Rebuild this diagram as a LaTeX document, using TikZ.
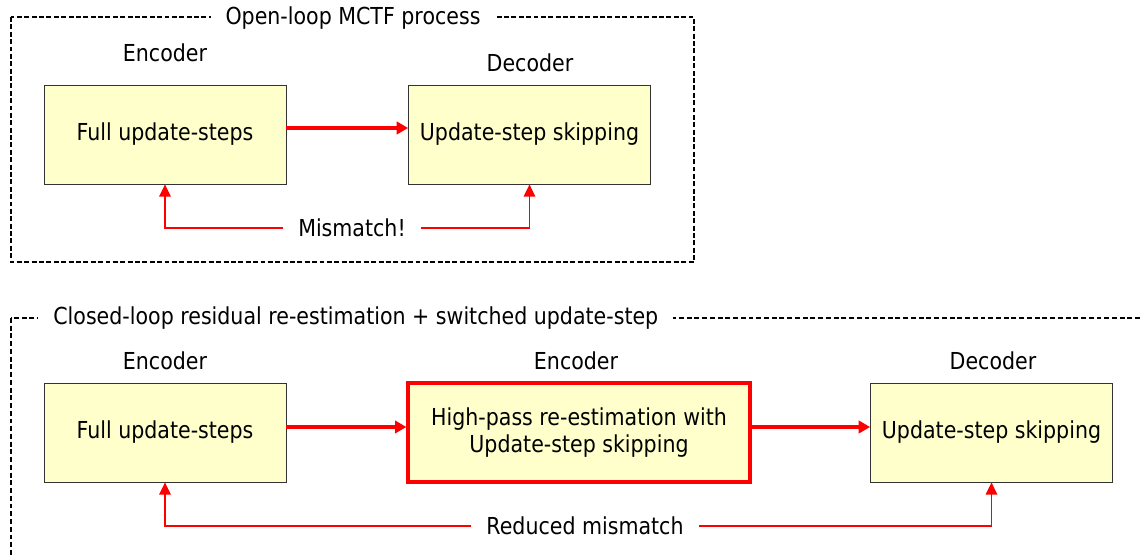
\documentclass[tikz,border=0pt]{standalone}
\usepackage{fontspec}
\setmainfont{DejaVu Sans}[FakeStretch=0.88]
\usetikzlibrary{arrows.meta}

\definecolor{boxfill}{HTML}{FFFFCC}
\tikzstyle{mc-block}=[draw=black!80,fill=boxfill,minimum width=4.84cm,minimum height=1.98cm,font=\fontsize{13.3}{15.5}\selectfont]
\tikzstyle{mc-block-r}=[mc-block,draw=red,line width=1.8pt,minimum width=6.84cm,align=center]
\tikzstyle{mc-label}=[font=\fontsize{13.3}{15.5}\selectfont]
\tikzstyle{mc-frame}=[dash pattern=on 2.8pt off 1.4pt,line width=1.1pt]
\tikzstyle{mc-frame-thin}=[dash pattern=on 2.8pt off 1.6pt,line width=0.7pt]
\tikzstyle{mc-title}=[fill=white,inner xsep=0.3cm,font=\fontsize{13.3}{15.5}\selectfont]
\tikzstyle{mc-flow}=[red,line width=1.9pt,-{Triangle[length=6.5pt,width=7pt]}]
\tikzstyle{mc-back}=[red,line width=1.1pt,-{Triangle[length=7pt,width=6.5pt]}]

\begin{document}
\begin{tikzpicture}
    \useasboundingbox (0,0) rectangle (22.86,-11.12);
    \clip (0,0) rectangle (22.86,-11.12);
    % open loop
    \draw[mc-frame] (0.22,-0.34) rectangle (13.88,-5.24);
    \node[mc-title] (open) at (7.06,-0.36) {Open-loop MCTF process};
    \node[mc-block] (enc1) at (3.30,-2.69) {Full update-steps};
    \node[mc-block] (dec1) at (10.59,-2.69) {Update-step skipping};
    \node[mc-label] (enc1l) at (3.30,-1.06) {Encoder};
    \node[mc-label] (dec1l) at (10.60,-1.26) {Decoder};
    \node[mc-label,inner xsep=0.3cm] (mis1) at (7.04,-4.56) {Mismatch!};
    \draw[mc-flow] ([yshift=1.3mm]enc1.east) to ([yshift=1.3mm]dec1.west);
    \draw[mc-back] (mis1.west) -| (enc1.south);
    \draw[mc-back] (mis1.east) -| (dec1.south);
    % closed loop
    \draw[mc-frame-thin] (0.22,-6.36) rectangle (23.5,-12);
    \node[mc-title,anchor=west] (closed) at (0.76,-6.36) {Closed-loop residual re-estimation + switched update-step};
    \node[mc-block]   (enc2) at (3.30,-8.65) {Full update-steps};
    \node[mc-block-r] (hp)   at (11.58,-8.65) {High-pass re-estimation with\\Update-step skipping};
    \node[mc-block]   (dec2) at (19.83,-8.65) {Update-step skipping};
    \node[mc-label] (enc2l) at (3.30,-7.22) {Encoder};
    \node[mc-label] (hpl)   at (11.52,-7.22) {Encoder};
    \node[mc-label] (dec2l) at (19.86,-7.22) {Decoder};
    \node[mc-label,inner xsep=0.3cm] (mis2) at (11.70,-10.52) {Reduced mismatch};
    \draw[mc-flow] ([yshift=1.1mm]enc2.east) to ([yshift=1.1mm]hp.west);
    \draw[mc-flow] ([yshift=1.1mm]hp.east) to ([yshift=1.1mm]dec2.west);
    \draw[mc-back] (mis2.west) -| (enc2.south);
    \draw[mc-back] (mis2.east) -| (dec2.south);
\end{tikzpicture}
\end{document}
